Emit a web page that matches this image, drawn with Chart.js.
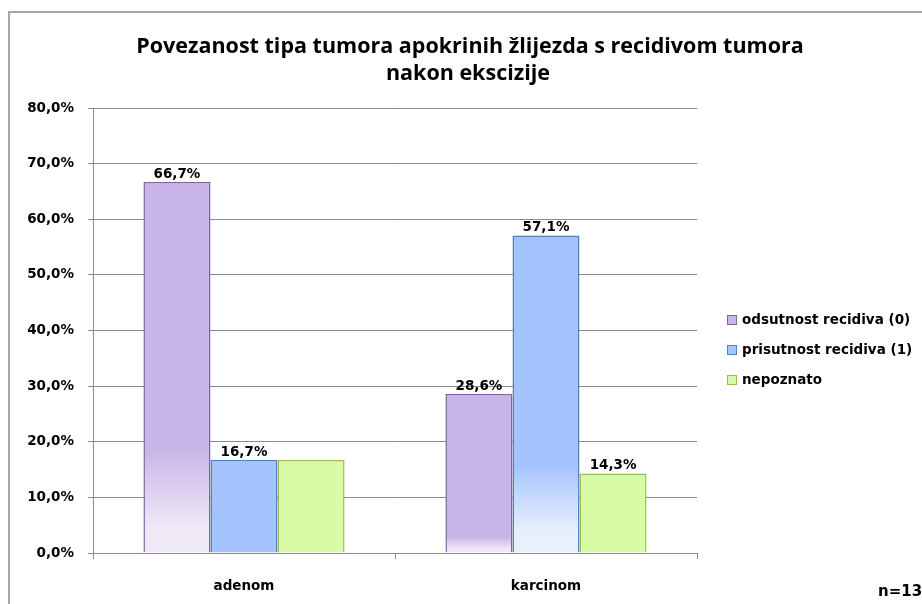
<!DOCTYPE html>
<html>
<head>
<meta charset="utf-8">
<script src="https://cdn.jsdelivr.net/npm/chart.js@4/dist/chart.umd.min.js"></script>
<style>
html,body{margin:0;padding:0;background:#fff;overflow:hidden;}
#wrap{width:922px;height:604px;position:relative;}
</style>
</head>
<body>
<div id="wrap"><canvas id="c" width="922" height="604"></canvas></div>
<script>
const categories = ["adenom", "karcinom"];
const seriesNames = ["odsutnost recidiva (0)", "prisutnost recidiva (1)", "nepoznato"];
const odsutnost = [66.7, 28.6];
const prisutnost = [16.7, 57.1];
const nepoznato = [16.7, 14.3];
const yTicks = [0, 10, 20, 30, 40, 50, 60, 70, 80];
const titleLines = ["Povezanost tipa tumora apokrinih žlijezda s recidivom tumora", "nakon ekscizije"];
const noteText = "n=13";

// styles
const FILLS = ["#c9b5e7", "#a4c3fd", "#d8fca4"];
const LIGHTS = ["#efe9f7", "#e8effd", "#d8fca4"];
const BORDERS = ["#8064a2", "#4f81bd", "#9bbb59"];
const FADE = [[0.72, 0.9], [null, 0.72], [null, null]];
const FONT = "'DejaVu Sans', Verdana, sans-serif";

function fill(ds) {
  return function(ctx) {
    const chart = ctx.chart;
    const i = ctx.dataIndex;
    const f = FADE[ds] && FADE[ds][i];
    if (f == null || !chart.scales || !chart.scales.y || ctx.raw == null) return FILLS[ds];
    const y = chart.scales.y;
    const top = y.getPixelForValue(ctx.raw);
    const bot = y.getPixelForValue(0);
    if (!isFinite(top) || !isFinite(bot) || bot - top < 2) return FILLS[ds];
    const g = chart.ctx.createLinearGradient(0, top, 0, bot);
    g.addColorStop(0, FILLS[ds]);
    g.addColorStop(f, FILLS[ds]);
    g.addColorStop(Math.min(1, f + (1 - f) * 0.75), LIGHTS[ds]);
    g.addColorStop(1, LIGHTS[ds]);
    return g;
  };
}

const fmt = v => v.toFixed(1).replace('.', ',') + '%';

const decor = {
  id: 'decor',
  beforeDraw(chart) {
    const c = chart.ctx;
    c.save();
    c.fillStyle = '#fff';
    c.fillRect(0, 0, chart.width, chart.height);
    c.strokeStyle = '#a6a6a6';
    c.lineWidth = 2;
    c.strokeRect(9, 12, 1000, 1000);
    c.restore();
  },
  afterDraw(chart) {
    const c = chart.ctx;
    c.save();
    // title
    c.fillStyle = '#000';
    c.textAlign = 'center';
    c.textBaseline = 'middle';
    c.font = "bold 21.5px 'Open Sans', Calibri, sans-serif";
    c.fillText(titleLines[0], 470, 47);
    c.fillText(titleLines[1], 468, 74);
    // data labels (Excel hides an overlapping equal label)
    c.font = "bold 13.5px " + FONT;
    c.textBaseline = 'alphabetic';
    chart.data.datasets.forEach((ds, di) => {
      const meta = chart.getDatasetMeta(di);
      meta.data.forEach((el, i) => {
        if (di > 0 && chart.data.datasets[di - 1].data[i] === ds.data[i]) return;
        c.fillText(fmt(ds.data[i]), el.x, el.y - 4);
      });
    });
    // legend
    c.textAlign = 'left';
    c.textBaseline = 'middle';
    c.font = "bold 13.5px " + FONT;
    chart.data.datasets.forEach((ds, di) => {
      const y = 320 + di * 30;
      c.fillStyle = FILLS[di];
      c.fillRect(727.5, y - 4.5, 9, 9);
      c.strokeStyle = BORDERS[di];
      c.lineWidth = 1;
      c.strokeRect(727.5, y - 4.5, 9, 9);
      c.fillStyle = '#000';
      c.fillText(ds.label, 742, y);
    });
    // note
    c.font = "bold 15px " + FONT;
    c.fillText(noteText, 878, 592);
    c.restore();
  }
};

new Chart(document.getElementById('c'), {
  type: 'bar',
  data: {
    labels: categories,
    datasets: [
      { label: seriesNames[0], data: odsutnost, backgroundColor: fill(0), borderColor: BORDERS[0], borderWidth: 1.5 },
      { label: seriesNames[1], data: prisutnost, backgroundColor: fill(1), borderColor: BORDERS[1], borderWidth: 1.5 },
      { label: seriesNames[2], data: nepoznato, backgroundColor: fill(2), borderColor: BORDERS[2], borderWidth: 1.5 }
    ]
  },
  options: {
    responsive: false,
    animation: false,
    devicePixelRatio: 1,
    layout: { padding: { left: 0, right: 225, top: 108, bottom: 0 } },
    categoryPercentage: 0.666,
    barPercentage: 1,
    plugins: {
      legend: { display: false },
      title: { display: false },
      tooltip: { enabled: false }
    },
    scales: {
      x: {
        offset: true,
        grid: { offset: true, drawOnChartArea: false, drawTicks: true, tickLength: 6, color: '#8c8c8c' },
        border: { display: true, color: '#8c8c8c', width: 1 },
        ticks: { color: '#000', font: { family: FONT, size: 13.5, weight: 'bold' }, padding: 19 },
        afterFit: s => { s.height = 51; }
      },
      y: {
        min: 0, max: 80,
        afterBuildTicks: s => { s.ticks = yTicks.map(v => ({ value: v })); },
        grid: { color: '#8c8c8c', tickLength: 5, drawTicks: true },
        border: { display: true, color: '#8c8c8c', width: 1 },
        ticks: { color: '#000', font: { family: FONT, size: 13.5, weight: 'bold' }, padding: 14, callback: v => fmt(v) },
        afterFit: s => { s.width = 93; }
      }
    }
  },
  plugins: [decor]
});
</script>
</body>
</html>
